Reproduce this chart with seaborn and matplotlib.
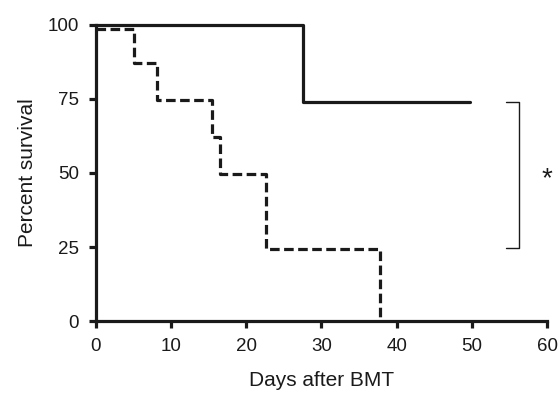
import seaborn as sns
import matplotlib.pyplot as plt
import pandas as pd

# Kaplan-Meier style step data
control_days = [0, 27.5, 49.7]
control_surv = [100, 74, 74]

treated_days = [0, 5.1, 8.2, 15.4, 16.5, 22.6, 37.8]
treated_surv = [98.5, 87, 74.5, 62, 49.5, 24.5, 0]

sns.set_style('ticks')
plt.rcParams['font.family'] = ['Liberation Sans', 'DejaVu Sans']

fig = plt.figure(figsize=(5.6, 3.94), dpi=100)
ax = fig.add_axes([0.171, 0.185, 0.806, 0.752])

df_c = pd.DataFrame({'day': control_days, 'surv': control_surv})
df_t = pd.DataFrame({'day': treated_days, 'surv': treated_surv})

sns.lineplot(data=df_c, x='day', y='surv', drawstyle='steps-post', estimator=None,
             color='#1a1a1a', linewidth=2.3, ax=ax, clip_on=False)
sns.lineplot(data=df_t, x='day', y='surv', drawstyle='steps-post', estimator=None,
             color='#1a1a1a', linewidth=2.3, ax=ax, clip_on=False,
             dashes=False, linestyle=(0, (3.0, 1.4)))

ax.set_xlim(0, 60)
ax.set_ylim(0, 100)
ax.set_xticks([0, 10, 20, 30, 40, 50, 60])
ax.set_yticks([0, 25, 50, 75, 100])

for side in ['top', 'right']:
    ax.spines[side].set_visible(False)
for side in ['left', 'bottom']:
    ax.spines[side].set_linewidth(2.3)
    ax.spines[side].set_color('#1a1a1a')
ax.tick_params(width=2.3, length=5, color='#1a1a1a', labelsize=13.5, labelcolor='#1a1a1a')
ax.tick_params(axis='x', pad=7)
ax.tick_params(axis='y', pad=7)

ax.set_xlabel('Days after BMT', fontsize=15, labelpad=12, color='#1a1a1a')
ax.set_ylabel('Percent survival', fontsize=15, labelpad=8, color='#1a1a1a')

# significance bracket
ax.plot([54.6, 56.2, 56.2, 54.6], [74, 74, 24.6, 24.6], color='#1a1a1a',
        linewidth=1.0, clip_on=False)
ax.text(60, 48, '*', fontsize=20, ha='center', va='center', color='#1a1a1a', clip_on=False)

fig.savefig('out.png', dpi=100)
